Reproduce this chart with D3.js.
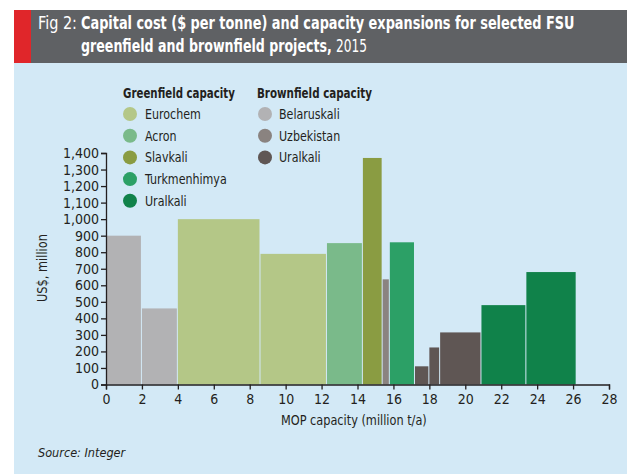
<!DOCTYPE html>
<html>
<head>
<meta charset="utf-8">
<script src="https://cdn.jsdelivr.net/npm/d3@7"></script>
<style>
  body { margin: 0; background: #fff; }
  svg text { font-family: "DejaVu Sans", sans-serif; font-stretch: condensed; }
</style>
</head>
<body>
<svg id="chart" width="627" height="474"></svg>
<script>
// projects, in the order they sit along the capacity axis
const projects = ["Belaruskali", "Belaruskali", "Eurochem", "Eurochem", "Acron", "Slavkali",
    "Uzbekistan", "Turkmenhimya", "Uralkali (b)", "Uralkali (b)", "Uralkali (b)", "Uralkali (g)", "Uralkali (g)"];
// capacity of each project, million t/a (bar widths)
const capacities = [2, 2, 4.6, 3.7, 2, 1.1, 0.4, 1.4, 0.8, 0.6, 2.3, 2.5, 2.8];
// capital cost, US$ million (bar heights)
const costs = [900, 460, 1000, 790, 855, 1370, 636, 860, 110, 224, 315, 480, 680];

const greenNames = ["Eurochem", "Acron", "Slavkali", "Turkmenhimya", "Uralkali"];
const greenColors = ["#b4c787", "#7aba8a", "#8a9c42", "#2ca066", "#10824a"];
const brownNames = ["Belaruskali", "Uzbekistan", "Uralkali"];
const brownColors = ["#b2b2b4", "#8a8380", "#5f5654"];

const xTicks = d3.range(0, 29, 2);
const yTicks = d3.range(0, 1401, 100);

const colorOf = {
    "Eurochem": greenColors[0], "Acron": greenColors[1], "Slavkali": greenColors[2],
    "Turkmenhimya": greenColors[3], "Uralkali (g)": greenColors[4],
    "Belaruskali": brownColors[0], "Uzbekistan": brownColors[1], "Uralkali (b)": brownColors[2]
};

const ink = "#231f20";
const svg = d3.select("#chart");

// panel background + title bar
svg.append("rect").attr("x", 14).attr("y", 63).attr("width", 613).attr("height", 411).attr("fill", "#d3e9f6");
svg.append("rect").attr("x", 14).attr("y", 10).attr("width", 613).attr("height", 53).attr("fill", "#5f6164");
svg.append("rect").attr("x", 14).attr("y", 10).attr("width", 17).attr("height", 53).attr("fill", "#e0262a");

// squeeze a text horizontally to a given width (the original uses a narrow face)
function fitText(parent, txt, xPos, yPos, len, size, bold, anchor) {
    const t = parent.append("text").attr("font-size", size)
        .attr("font-weight", bold ? "bold" : null).text(txt);
    const w = t.node().getComputedTextLength();
    const k = len / w;
    const dx = anchor === "middle" ? -len / 2 : 0;
    t.attr("transform", `translate(${xPos + dx},${yPos}) scale(${k},1)`);
    return t;
}
// same idea with a fixed squeeze factor
function narrowText(parent, txt, xPos, yPos, size, k) {
    return parent.append("text").attr("font-size", size)
        .attr("transform", `translate(${xPos},${yPos}) scale(${k},1)`).text(txt);
}

fitText(svg, "Fig 2:", 38, 29, 39, "17px", false).attr("fill", "#fff");
fitText(svg, "Capital cost ($ per tonne) and capacity expansions for selected FSU", 81, 29, 494, "17px", true).attr("fill", "#fff");
fitText(svg, "greenfield and brownfield projects,", 81, 52, 251, "17px", true).attr("fill", "#fff");
fitText(svg, "2015", 336, 52, 31, "17px", false).attr("fill", "#fff");

// scales
const x = d3.scaleLinear().domain([0, 28]).range([106, 609]);
const y = d3.scaleLinear().domain([0, 1400]).range([384.5, 153]);

let start = 0;
const bars = projects.map((p, i) => {
    const b = { name: p, x0: start, x1: start + capacities[i], cost: costs[i] };
    start += capacities[i];
    return b;
});

svg.append("g").selectAll("rect").data(bars).join("rect")
    .attr("x", d => x(d.x0))
    .attr("width", d => x(d.x1) - x(d.x0) - 1)
    .attr("y", d => y(d.cost))
    .attr("height", d => y(0) - y(d.cost))
    .attr("fill", d => colorOf[d.name]);

// axes
const xAxis = svg.append("g").attr("transform", `translate(0,${y(0)})`)
    .call(d3.axisBottom(x).tickValues(xTicks).tickSize(5).tickPadding(3));
const yAxis = svg.append("g").attr("transform", `translate(${x(0)},0)`)
    .call(d3.axisLeft(y).tickValues(yTicks).tickSize(5).tickPadding(2).tickFormat(d3.format(",")));
[xAxis, yAxis].forEach(a => {
    a.selectAll("path, line").attr("stroke", ink).attr("stroke-width", 1.3);
    a.selectAll("text").attr("fill", ink).attr("font-size", "14px")
        .style("font-family", "'DejaVu Sans', sans-serif").style("font-stretch", "condensed");
});
xAxis.selectAll("text").attr("dy", "0.85em");

fitText(svg, "MOP capacity (million t/a)", 281, 425, 146, "14px", false).attr("fill", ink);
const yLab = svg.append("g").attr("transform", "translate(47,268) rotate(-90)");
fitText(yLab, "US$, million", 0, 0, 68, "14px", false, "middle").attr("fill", ink);

fitText(svg, "Source: Integer", 38, 457, 87, "13px", false).attr("fill", ink).attr("font-style", "italic");

// legend
function legend(title, names, colors, cx, tx, titleLen) {
    fitText(svg, title, tx - 22, 98, titleLen, "14px", true).attr("fill", ink);
    const rows = svg.append("g").selectAll("g").data(names).join("g")
        .attr("transform", (d, i) => `translate(0,${114 + i * 21.7})`);
    rows.append("circle").attr("cx", cx).attr("r", 7).attr("fill", (d, i) => colors[i]);
    rows.each(function (d) {
        narrowText(d3.select(this), d, tx, 5, "14px", 0.88).attr("fill", ink);
    });
}
legend("Greenfield capacity", greenNames, greenColors, 130, 145, 112);
legend("Brownfield capacity", brownNames, brownColors, 265, 279, 115);
</script>
</body>
</html>
